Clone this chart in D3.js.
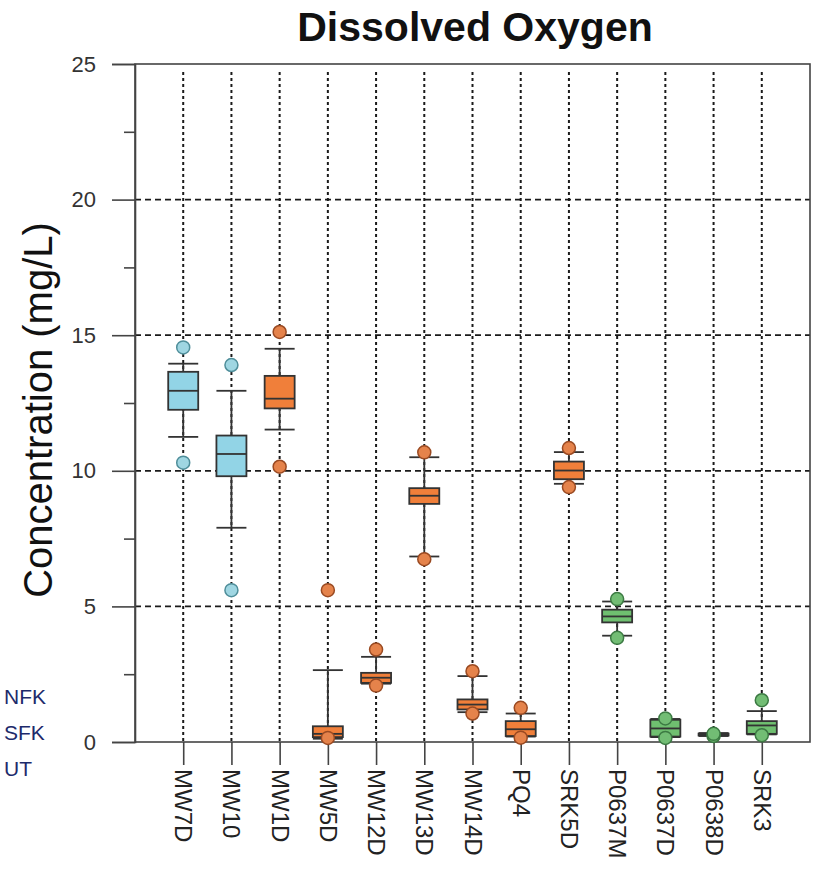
<!DOCTYPE html>
<html>
<head>
<meta charset="utf-8">
<script src="https://cdn.jsdelivr.net/npm/d3@7"></script>
<style>
  html, body { margin: 0; padding: 0; background: #ffffff; }
  svg { display: block; }
</style>
</head>
<body>
<div id="chart"></div>
<script>
// Dissolved oxygen by monitoring well: box plots with 5th/95th percentile points
const categories = ["MW7D", "MW10", "MW1D", "MW5D", "MW12D", "MW13D", "MW14D", "PQ4", "SRK5D", "P0637M", "P0637D", "P0638D", "SRK3"];
const groups     = ["NFK", "NFK", "SFK", "SFK", "SFK", "SFK", "SFK", "SFK", "SFK", "UT", "UT", "UT", "UT"];
const p5         = [10.3, 5.6, 10.15, 0.15, 2.08, 6.74, 1.05, 0.16, 9.40, 3.84, 0.15, 0.22, 0.25];
const p10        = [11.25, 7.9, 11.52, 0.12, 2.15, 6.84, 1.10, 0.20, 9.52, 3.92, 0.18, 0.22, 0.28];
const q1         = [12.25, 9.8, 12.3, 0.18, 2.18, 8.78, 1.20, 0.22, 9.69, 4.41, 0.20, 0.24, 0.30];
const medians    = [12.95, 10.62, 12.66, 0.30, 2.37, 9.08, 1.38, 0.47, 10.01, 4.63, 0.50, 0.27, 0.61];
const q3         = [13.65, 11.3, 13.5, 0.58, 2.55, 9.36, 1.57, 0.77, 10.34, 4.88, 0.82, 0.31, 0.77];
const p90        = [13.95, 12.95, 14.5, 2.65, 3.14, 10.5, 2.43, 1.05, 10.69, 5.18, 0.85, 0.33, 1.14];
const p95        = [14.55, 13.9, 15.12, 5.6, 3.41, 10.68, 2.61, 1.26, 10.84, 5.27, 0.87, 0.30, 1.54];
const yTicks     = [0, 5, 10, 15, 20, 25];
const yMinor     = [2.5, 7.5, 12.5, 17.5, 22.5];
const legendLabels = ["NFK", "SFK", "UT"];

const boxFill    = { NFK: "#92d4e6", SFK: "#f07f3a", UT: "#6fbf70" };
const dotFill    = { NFK: "#9fd6e2", SFK: "#e5834b", UT: "#72bd74" };
const dotStroke  = { NFK: "#4f8e9a", SFK: "#9a4a22", UT: "#3c7a43" };

const W = 827, H = 872;
const m = { left: 135, right: 810, top: 64, bottom: 742 };

const svg = d3.select("#chart").append("svg")
  .attr("width", W).attr("height", H)
  .attr("font-family", "Liberation Sans, Arial, Helvetica, sans-serif");

const x = d3.scalePoint().domain(categories).range([m.left, m.right]).padding(1);
const y = d3.scaleLinear().domain([0, 25]).range([m.bottom, m.top]);

// Grid
const grid = svg.append("g");
grid.selectAll("line.h").data(yTicks.filter(t => t > 0 && t < 25)).join("line")
  .attr("x1", m.left).attr("x2", m.right)
  .attr("y1", d => y(d)).attr("y2", d => y(d))
  .attr("stroke", "#1a1a1a").attr("stroke-width", 1.7).attr("stroke-dasharray", "6,4");
grid.selectAll("line.v").data(categories).join("line")
  .attr("x1", d => x(d)).attr("x2", d => x(d))
  .attr("y1", m.top + 8).attr("y2", m.bottom)
  .attr("stroke", "#1a1a1a").attr("stroke-width", 2).attr("stroke-dasharray", "3,3");

// Frame (top/right) and axes
svg.append("rect")
  .attr("x", m.left).attr("y", m.top)
  .attr("width", m.right - m.left).attr("height", m.bottom - m.top)
  .attr("fill", "none").attr("stroke", "#444").attr("stroke-width", 1.6);

const yAxis = d3.axisLeft(y).tickValues(yTicks).tickSize(23).tickPadding(16).tickFormat(d3.format("d"));
const gy = svg.append("g").attr("transform", `translate(${m.left},0)`).call(yAxis);
gy.select(".domain").attr("stroke", "#444").attr("stroke-width", 1.6);
gy.selectAll(".tick line").attr("stroke", "#444").attr("stroke-width", 1.6);
gy.selectAll(".tick text").attr("font-size", 22).attr("fill", "#333");

const gyMinor = svg.append("g").attr("transform", `translate(${m.left},0)`)
  .call(d3.axisLeft(y).tickValues(yMinor).tickSize(11).tickFormat(""));
gyMinor.select(".domain").remove();
gyMinor.selectAll(".tick line").attr("stroke", "#444").attr("stroke-width", 1.6);

const xAxis = d3.axisBottom(x).tickSize(23).tickSizeOuter(0);
const gx = svg.append("g").attr("transform", `translate(0,${m.bottom})`).call(xAxis);
gx.select(".domain").remove();
gx.selectAll(".tick line").attr("stroke", "#444").attr("stroke-width", 1.6);
gx.selectAll(".tick text")
  .attr("font-size", 24).attr("fill", "#222")
  .attr("text-anchor", "start")
  .attr("dy", null).attr("y", 0)
  .attr("dominant-baseline", "central")
  .attr("transform", "translate(0,27) rotate(90)");

// Boxes
const stats = categories.map((c, i) => ({
  c, g: groups[i], p5: p5[i], p10: p10[i], q1: q1[i], med: medians[i], q3: q3[i], p90: p90[i], p95: p95[i]
}));
const bw = 30, cw = 30;
const boxes = svg.append("g").selectAll("g").data(stats).join("g");

boxes.append("line")
  .attr("x1", d => x(d.c)).attr("x2", d => x(d.c))
  .attr("y1", d => y(d.p10)).attr("y2", d => y(d.p90))
  .attr("stroke", "#333").attr("stroke-width", 1.8);
boxes.selectAll("line.cap").data(d => [{ c: d.c, v: d.p10 }, { c: d.c, v: d.p90 }]).join("line")
  .attr("x1", d => x(d.c) - cw / 2).attr("x2", d => x(d.c) + cw / 2)
  .attr("y1", d => y(d.v)).attr("y2", d => y(d.v))
  .attr("stroke", "#333").attr("stroke-width", 1.8);
boxes.append("rect")
  .attr("x", d => x(d.c) - bw / 2).attr("width", bw)
  .attr("y", d => y(d.q3)).attr("height", d => Math.max(1, y(d.q1) - y(d.q3)))
  .attr("fill", d => boxFill[d.g]).attr("stroke", "#333").attr("stroke-width", 1.8);
boxes.append("line")
  .attr("x1", d => x(d.c) - bw / 2).attr("x2", d => x(d.c) + bw / 2)
  .attr("y1", d => y(d.med)).attr("y2", d => y(d.med))
  .attr("stroke", "#333").attr("stroke-width", 1.8);
boxes.selectAll("circle").data(d => [{ c: d.c, g: d.g, v: d.p5 }, { c: d.c, g: d.g, v: d.p95 }]).join("circle")
  .attr("cx", d => x(d.c)).attr("cy", d => y(d.v)).attr("r", 6.5)
  .attr("fill", d => dotFill[d.g]).attr("stroke", d => dotStroke[d.g]).attr("stroke-width", 1.5);

// Title and axis label
svg.append("text")
  .attr("x", 475).attr("y", 41)
  .attr("text-anchor", "middle").attr("font-size", 41).attr("font-weight", "bold").attr("fill", "#111")
  .text("Dissolved Oxygen");
svg.append("text")
  .attr("transform", `translate(52,410) rotate(-90)`)
  .attr("text-anchor", "middle").attr("font-size", 40).attr("fill", "#111")
  .text("Concentration (mg/L)");

// Region labels
svg.append("g").selectAll("text").data(legendLabels).join("text")
  .attr("x", 4).attr("y", (d, i) => 704 + i * 36)
  .attr("font-size", 21).attr("fill", "#1d2a6b")
  .text(d => d);
</script>
</body>
</html>
